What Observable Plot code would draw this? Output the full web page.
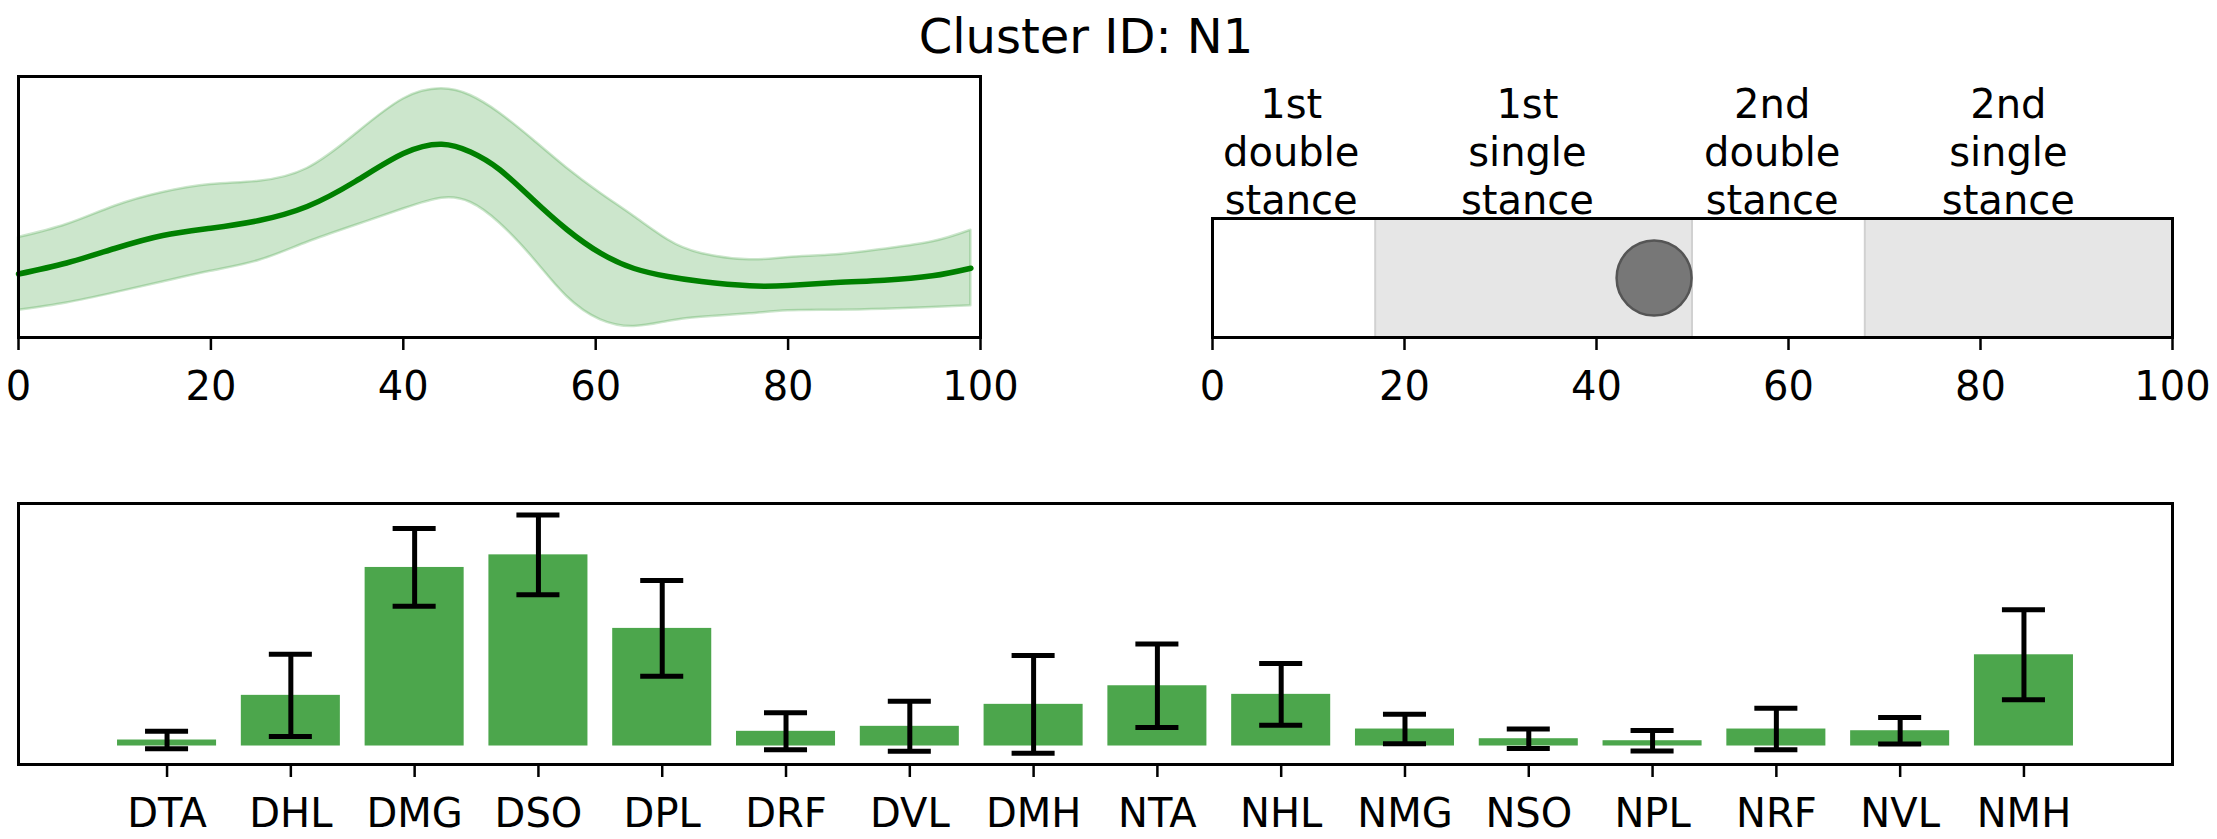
<!DOCTYPE html>
<html>
<head>
<meta charset="utf-8">
<script src="https://cdn.jsdelivr.net/npm/d3@7"></script>
<script src="https://cdn.jsdelivr.net/npm/@observablehq/plot@0.6"></script>
<style>
  html, body { margin: 0; padding: 0; background: #fff; }
  #root { position: relative; width: 2217px; height: 839px; overflow: hidden; font-family: "DejaVu Sans", sans-serif; }
  #title { position: absolute; left: 0; width: 2172px; top: 12px; text-align: center; font-size: 48px; line-height: 48px; color: #000; }
  .panel { position: absolute; }
</style>
</head>
<body>
<div id="root">
  <div id="title">Cluster ID: N1</div>
  <div class="panel" id="p1" style="left:0;top:0"></div>
  <div class="panel" id="p2" style="left:1108px;top:0"></div>
  <div class="panel" id="p3" style="left:0;top:430px"></div>
</div>
<script>
// ---- Top-left: mean curve with band (gait cycle %) ----
const phaseX = [0,5,10,15,20,25,30,35,40,44,47,50,53.5,57,60.5,64,67.5,71,76,80,85,90,95,99];
const meanY  = [63.5,74.5,89,102,109.3,117,131,156,184,193.3,185.5,168,137.7,108,84.3,69,61,56,51.7,52,55,57.3,61.7,69.3];
const upperY = [100,113,131.3,145,153,156.3,169,203,238.5,248.7,242,224.5,197.7,169.5,144.3,121,97.7,84,77.7,80,82.7,88.3,95.7,107.3];
const lowerY = [27.2,34.6,44.6,55.5,66.3,77,95,112,128.5,139.3,135,114.5,79.3,41,17.7,11,16,20.3,23.7,26.7,27.3,28.3,30,31.7];
const xTicks = [0,20,40,60,80,100];

// ---- Top-right: gait phases ----
const phaseStart = [0,17,50,68];
const phaseEnd   = [17,50,68,100];
const phaseShaded = [false,true,false,true];
const phaseLabels = ["1st\ndouble\nstance","1st\nsingle\nstance","2nd\ndouble\nstance","2nd\nsingle\nstance"];
const phaseLabelX = [8.2,32.8,58.3,82.9];
const markerX = [46];

// ---- Bottom: muscle bars ----
const cats  = ["DTA","DHL","DMG","DSO","DPL","DRF","DVL","DMH","NTA","NHL","NMG","NSO","NPL","NRF","NVL","NMH"];
const means = [6,50.7,178.7,191.3,117.7,14.7,19.7,41.7,60.3,51.7,17,7.3,5.3,17,15.3,91.3];
const sds   = [8.7,41.2,38.9,40,48,18.5,25,49,41.7,30.8,14.8,9.8,10.3,20.7,13.2,45];

const font = {fontFamily: "DejaVu Sans", color: "black", background: "transparent", overflow: "visible"};
const axisOpts = {tickSize: 13, tickPadding: 21, fontSize: 40, strokeWidth: 2.5, label: null};

const curve = phaseX.map((x, i) => ({x, mean: meanY[i], lo: lowerY[i], hi: upperY[i]}));

const p1 = Plot.plot({
  width: 1108, height: 430,
  marginLeft: 18, marginRight: 128, marginTop: 76, marginBottom: 93,
  style: font,
  x: {domain: [0, 100]},
  y: {domain: [0, 261], axis: null},
  marks: [
    Plot.areaY(curve, {x: "x", y1: "lo", y2: "hi", curve: "natural", fill: "green", fillOpacity: 0.2, stroke: "green", strokeOpacity: 0.2, strokeWidth: 2.5}),
    Plot.lineY(curve, {x: "x", y: "mean", curve: "natural", stroke: "green", strokeWidth: 5.5}),
    Plot.axisX({...axisOpts, ticks: xTicks, tickFormat: d => String(d)}),
    Plot.frame({stroke: "black", strokeWidth: 3})
  ]
});
document.getElementById("p1").appendChild(p1);

const phases = phaseStart.map((s, i) => ({s, e: phaseEnd[i], shaded: phaseShaded[i], label: phaseLabels[i], lx: phaseLabelX[i]}));

const p2 = Plot.plot({
  width: 1109, height: 430,
  marginLeft: 104, marginRight: 45, marginTop: 218, marginBottom: 93,
  style: font,
  x: {domain: [0, 100]},
  y: {domain: [0, 1], axis: null},
  marks: [
    Plot.rect(phases.filter(d => d.shaded), {x1: "s", x2: "e", fill: "#e6e6e6", stroke: "#d1d1d1", strokeWidth: 2}),
    Plot.dot(markerX, {x: d => d, y: 0.5, r: 37.5, fill: "#777777", stroke: "#555555", strokeWidth: 2.5}),
    Plot.text(phases, {x: "lx", y: 1, text: "label", lineAnchor: "bottom", lineHeight: 1.2, fontSize: 40, dy: -5, fill: "black"}),
    Plot.axisX({...axisOpts, ticks: xTicks, tickFormat: d => String(d)}),
    Plot.frame({stroke: "black", strokeWidth: 3})
  ]
});
document.getElementById("p2").appendChild(p2);

const bars = cats.map((c, i) => ({c, m: means[i], lo: means[i] - sds[i], hi: means[i] + sds[i]}));

const p3 = Plot.plot({
  width: 2217, height: 409,
  marginLeft: 18, marginRight: 45, marginTop: 73, marginBottom: 75,
  style: font,
  x: {type: "band", domain: cats, paddingInner: 0.2, paddingOuter: 0.8, round: false},
  y: {domain: [-18.5, 242.7], axis: null},
  marks: [
    Plot.barY(bars, {x: "c", y: "m", fill: "#4ca64c"}),
    Plot.ruleX(bars, {x: "c", y1: "lo", y2: "hi", stroke: "black", strokeWidth: 5}),
    Plot.tickY(bars, {x: "c", y: "hi", stroke: "black", strokeWidth: 5, insetLeft: 28, insetRight: 28}),
    Plot.tickY(bars, {x: "c", y: "lo", stroke: "black", strokeWidth: 5, insetLeft: 28, insetRight: 28}),
    Plot.axisX({...axisOpts}),
    Plot.frame({stroke: "black", strokeWidth: 3})
  ]
});
document.getElementById("p3").appendChild(p3);
</script>
</body>
</html>
